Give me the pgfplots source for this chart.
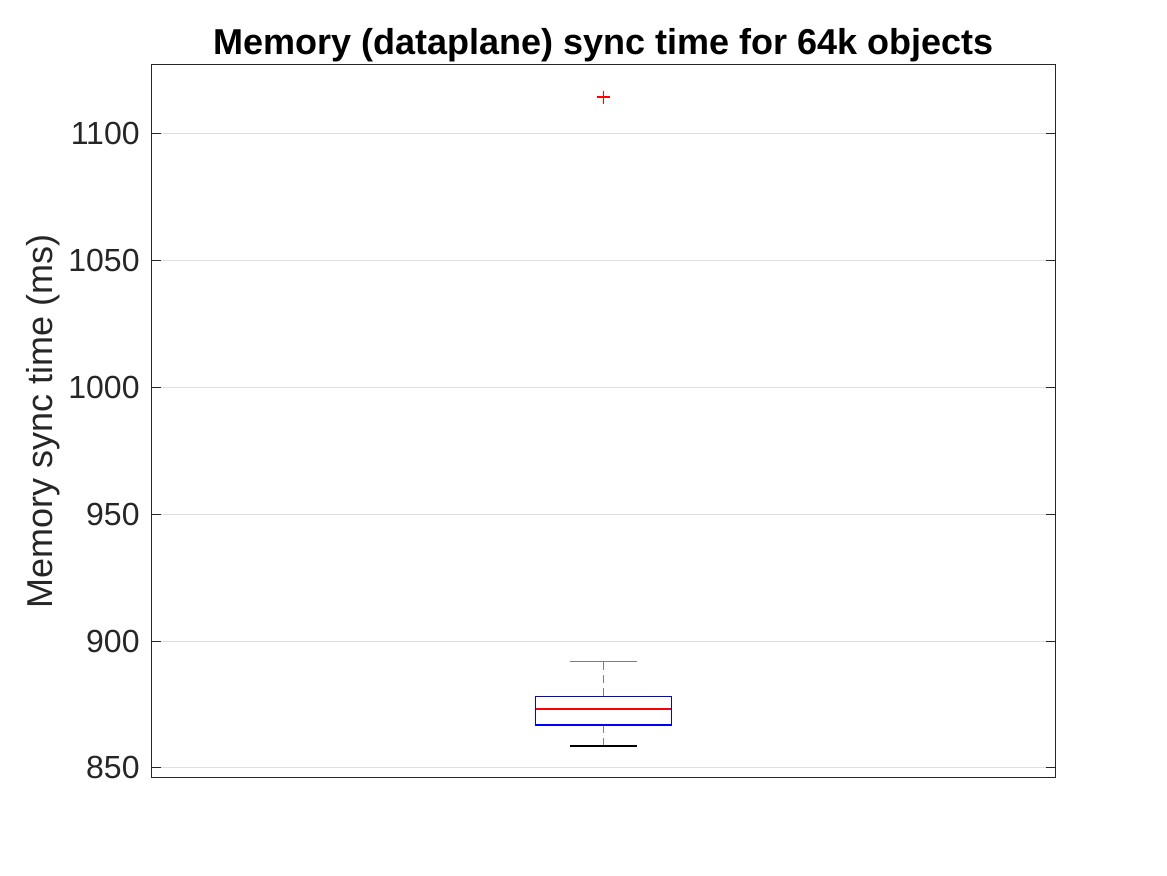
\documentclass[border=0pt]{standalone}
\usepackage{fontspec}
\setmainfont{Liberation Sans}
\usepackage{pgfplots}
\pgfplotsset{compat=1.18}
\definecolor{axgray}{HTML}{262626}
\definecolor{gridgray}{HTML}{DFDFDF}
\definecolor{whiskgray}{HTML}{7F7F7F}
\definecolor{boxblue}{HTML}{0000FF}
\definecolor{medred}{HTML}{FF0000}
\begin{document}
\begin{tikzpicture}
\begin{axis}[
  at={(0,0)}, anchor=south west,
  scale only axis,
  width=451.5pt, height=356pt,
  xmin=0.5, xmax=1.5,
  ymin=846.4, ymax=1127.2,
  xtick=\empty,
  ytick={850,900,950,1000,1050,1100},
  /pgf/number format/1000 sep={},
  /pgf/number format/assume math mode=true,
  tick pos=both, tick align=inside,
  major tick length=4.5pt,
  ymajorgrids,
  grid style={gridgray, line width=0.5pt},
  axis line style={axgray, line width=0.5pt},
  every tick/.style={axgray, line width=0.5pt},
  yticklabel style={font=\fontsize{16}{19}\selectfont, text=axgray, inner sep=0pt, xshift=-6pt},
  title={Memory (dataplane) sync time for 64k objects},
  title style={font=\fontsize{18}{21}\selectfont\bfseries, at={(axis description cs:0.5,1.0183)}, anchor=base, inner sep=0pt, yshift=-7.5pt},
  ylabel={Memory sync time (ms)},
  ylabel style={font=\fontsize{18}{22}\selectfont, text=axgray, at={(axis description cs:-0.102,0.5)}, anchor=south, inner sep=0pt},
]
% whiskers (dashed)
\addplot[draw=whiskgray, line width=0.75pt, dash pattern=on 4pt off 2.5pt, mark=none] coordinates {(1,878.2) (1,891.9)};
\addplot[draw=whiskgray, line width=0.75pt, dash pattern=on 4pt off 2.5pt, mark=none] coordinates {(1,858.6) (1,866.9)};
% whisker caps
\addplot[draw=whiskgray, line width=0.75pt, mark=none] coordinates {(0.963,891.9) (1.037,891.9)};
\addplot[draw=black, line width=0.75pt, mark=none] coordinates {(0.963,858.6) (1.037,858.6)};
% box (Q1 866.9, Q3 878.2)
\addplot[draw=boxblue, line width=0.6pt, mark=none] coordinates {(0.925,866.9) (1.075,866.9) (1.075,878.2) (0.925,878.2)} -- cycle;
% median
\addplot[draw=medred, line width=0.6pt, mark=none] coordinates {(0.925,873.2) (1.075,873.2)};
% outlier at (1, 1114.5), drawn as a "+"
\addplot[draw=medred, line width=0.8pt, mark=none] coordinates {(0.9928,1114.5) (1.0072,1114.5)};
\addplot[draw=medred, line width=0.8pt, mark=none] coordinates {(1,1111.9) (1,1117.1)};
\end{axis}
\pgfresetboundingbox
\path[use as bounding box] (-76pt,-49pt) rectangle (507.5pt,388.5pt);
\end{tikzpicture}
\end{document}
